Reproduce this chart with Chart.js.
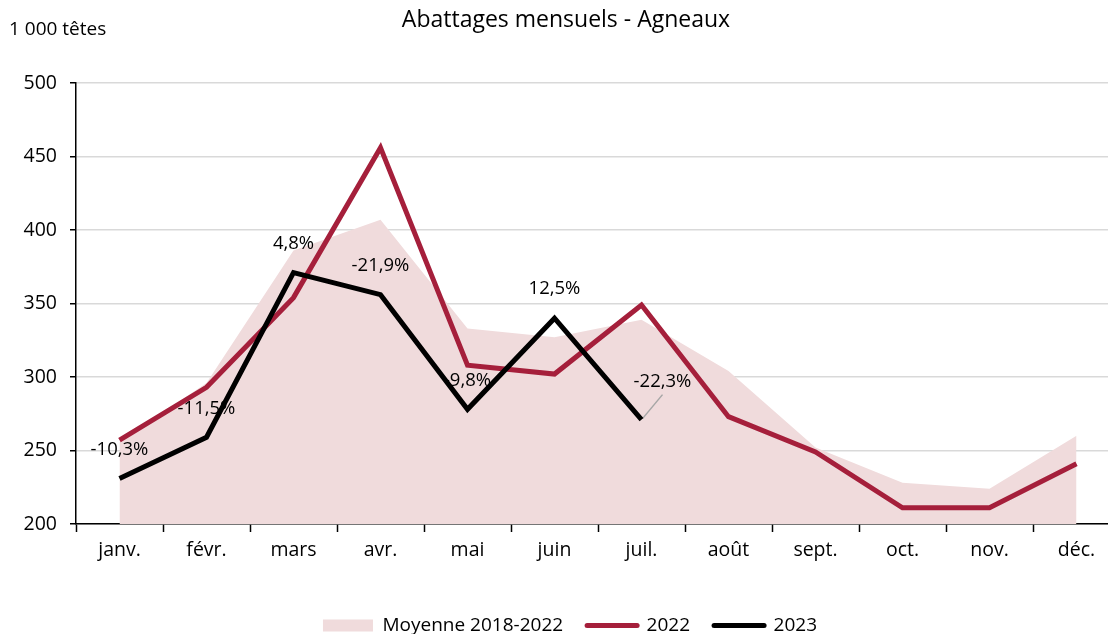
<!DOCTYPE html>
<html lang="fr">
<head>
<meta charset="utf-8">
<script src="https://cdn.jsdelivr.net/npm/chart.js@4.4.0/dist/chart.umd.min.js"></script>
<style>
  html, body { margin: 0; padding: 0; background: #fff; overflow: hidden; }
  #wrap { width: 1120px; height: 645px; }
</style>
</head>
<body>
<div id="wrap"><canvas id="graphique"></canvas></div>
<script>
const mois = ["janv.", "févr.", "mars", "avr.", "mai", "juin", "juil.", "août", "sept.", "oct.", "nov.", "déc."];
const moyenne = [256, 296, 386, 407, 333, 327, 339, 304, 252, 228, 224, 260];
const serie2022 = [257, 293, 354, 456, 308, 302, 349, 273, 249, 211, 211, 241];
const serie2023 = [231, 259, 371, 356, 278, 340, 271];
const variations = ["-10,3%", "-11,5%", "4,8%", "-21,9%", "-9,8%", "12,5%", "-22,3%"];
const graduations = [200, 250, 300, 350, 400, 450, 500];

const police = "'Open Sans', sans-serif";
const rouge = "#a51f3b";
const rose = "#f0dbdc";
const couleurs = [rose, rouge, "#000"];

// Titre et unité
const textes = {
  id: "textes",
  afterDraw(chart) {
    const ctx = chart.ctx;
    ctx.save();
    ctx.fillStyle = "#000";
    ctx.textBaseline = "middle";
    ctx.font = "23px " + police;
    ctx.textAlign = "center";
    ctx.fillText("Abattages mensuels - Agneaux", 566, 20);
    ctx.font = "19px " + police;
    ctx.textAlign = "left";
    ctx.fillText("1 000 têtes", 9, 30);
    ctx.restore();
  }
};

// Etiquettes de variation (sous les courbes)
const etiquettes = {
  id: "etiquettes",
  afterDatasetDraw(chart, args) {
    if (args.index !== 0) return;
    const ctx = chart.ctx;
    const x = chart.scales.x, y = chart.scales.y;
    ctx.save();
    ctx.font = "18.5px " + police;
    ctx.fillStyle = "#000";
    ctx.textAlign = "center";
    ctx.textBaseline = "middle";
    variations.forEach((txt, i) => {
      const px = x.getPixelForValue(i);
      const py = y.getPixelForValue(serie2023[i]);
      if (i === variations.length - 1) {
        // dernière étiquette décalée avec un trait de rappel
        ctx.strokeStyle = "#a6a6a6";
        ctx.lineWidth = 1.5;
        ctx.beginPath();
        ctx.moveTo(px + 21, py - 25);
        ctx.lineTo(px + 1, py - 1);
        ctx.stroke();
        ctx.fillText(txt, px + 21, py - 38);
      } else {
        ctx.fillText(txt, px, py - 29);
      }
    });
    ctx.restore();
  }
};

new Chart(document.getElementById("graphique"), {
  type: "line",
  data: {
    labels: mois,
    datasets: [
      { label: "Moyenne 2018-2022", data: moyenne, backgroundColor: rose, borderWidth: 0, fill: "start", pointRadius: 0, order: 3 },
      { label: "2022", data: serie2022, borderColor: rouge, backgroundColor: rouge, borderWidth: 5, pointRadius: 0, order: 2 },
      { label: "2023", data: serie2023, borderColor: "#000", backgroundColor: "#000", borderWidth: 5, pointRadius: 0, order: 1 }
    ]
  },
  options: {
    responsive: true,
    maintainAspectRatio: false,
    animation: false,
    layout: { padding: { top: 83, left: 20, right: 0, bottom: 0 } },
    scales: {
      x: {
        offset: true,
        grid: { offset: true, drawOnChartArea: false, drawTicks: true, tickLength: 8, tickColor: "#000", tickWidth: 1.5 },
        border: { color: "#000", width: 1.5 },
        ticks: { color: "#000", font: { family: police, size: 19.5 }, padding: 7, maxRotation: 0 },
        afterFit: s => { s.height = 68; }
      },
      y: {
        min: 200,
        max: 500,
        afterBuildTicks: s => { s.ticks = graduations.map(v => ({ value: v })); },
        grid: { color: "#d9d9d9", lineWidth: 1.5, tickLength: 6, tickColor: "#000", tickWidth: 1.5 },
        border: { color: "#000", width: 1.5 },
        ticks: { color: "#000", font: { family: police, size: 19.5 }, padding: 13 },
        afterFit: s => { s.width = 56; }
      }
    },
    plugins: {
      title: { display: false },
      tooltip: { enabled: false },
      legend: {
        position: "bottom",
        labels: {
          usePointStyle: true,
          pointStyleWidth: 50,
          boxHeight: 12,
          padding: 24,
          color: "#000",
          font: { family: police, size: 19 },
          sort: (a, b) => a.datasetIndex - b.datasetIndex,
          generateLabels: chart => Chart.defaults.plugins.legend.labels.generateLabels(chart).map(it => ({
            ...it,
            pointStyle: it.datasetIndex === 0 ? "rect" : "line",
            fillStyle: couleurs[it.datasetIndex],
            strokeStyle: couleurs[it.datasetIndex],
            lineWidth: it.datasetIndex === 0 ? 0 : 5,
            lineCap: "round"
          }))
        }
      }
    }
  },
  plugins: [textes, etiquettes]
});
</script>
</body>
</html>
